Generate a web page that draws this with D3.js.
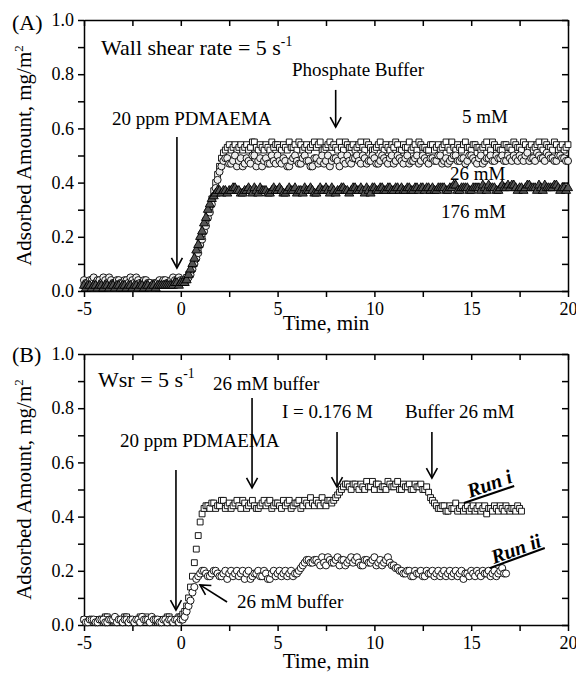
<!DOCTYPE html>
<html>
<head>
<meta charset="utf-8">
<title>Adsorbed amount</title>
<script src="https://d3js.org/d3.v7.min.js"></script>
<style>
  body { margin: 0; background: #fff; }
  svg text { font-family: "Liberation Serif", "Times New Roman", serif; fill: #000; }
</style>
</head>
<body>
<svg width="576" height="674"></svg>
<script>
// ---- data ----
const xTickLabels = [-5, 0, 5, 10, 15, 20];
const xMinorTicks = [-2.5, 2.5, 7.5, 12.5, 17.5];
const yTickLabels = [0.0, 0.2, 0.4, 0.6, 0.8, 1.0];
const yMinorTicks = [0.1, 0.3, 0.5, 0.7, 0.9];

// panel A time, min
const timeA = [
  -5,-4.8,-4.6,-4.4,-4.2,-4,-3.8,-3.6,-3.4,-3.2,
  -3,-2.8,-2.6,-2.4,-2.2,-2,-1.8,-1.6,-1.4,-1.2,
  -1,-0.8,-0.6,-0.4,-0.2,0,0.2,0.4,0.6,0.8,
  1,1.2,1.4,1.6,1.8,2,2.2,2.4,2.6,2.8,
  3,3.2,3.4,3.6,3.8,4,4.2,4.4,4.6,4.8,
  5,5.2,5.4,5.6,5.8,6,6.2,6.4,6.6,6.8,
  7,7.2,7.4,7.6,7.8,8,8.2,8.4,8.6,8.8,
  9,9.2,9.4,9.6,9.8,10,10.2,10.4,10.6,10.8,
  11,11.2,11.4,11.6,11.8,12,12.2,12.4,12.6,12.8,
  13,13.2,13.4,13.6,13.8,14,14.2,14.4,14.6,14.8,
  15,15.2,15.4,15.6,15.8,16,16.2,16.4,16.6,16.8,
  17,17.2,17.4,17.6,17.8,18,18.2,18.4,18.6,18.8,
  19,19.2,19.4,19.6,19.8,20
];
const timeAHalf = [
  -4.9,-4.7,-4.5,-4.3,-4.1,-3.9,-3.7,-3.5,-3.3,-3.1,
  -2.9,-2.7,-2.5,-2.3,-2.1,-1.9,-1.7,-1.5,-1.3,-1.1,
  -0.9,-0.7,-0.5,-0.3,-0.1,0.1,0.3,0.5,0.7,0.9,
  1.1,1.3,1.5,1.7,1.9,2.1,2.3,2.5,2.7,2.9,
  3.1,3.3,3.5,3.7,3.9,4.1,4.3,4.5,4.7,4.9,
  5.1,5.3,5.5,5.7,5.9,6.1,6.3,6.5,6.7,6.9,
  7.1,7.3,7.5,7.7,7.9,8.1,8.3,8.5,8.7,8.9,
  9.1,9.3,9.5,9.7,9.9,10.1,10.3,10.5,10.7,10.9,
  11.1,11.3,11.5,11.7,11.9,12.1,12.3,12.5,12.7,12.9,
  13.1,13.3,13.5,13.7,13.9,14.1,14.3,14.5,14.7,14.9,
  15.1,15.3,15.5,15.7,15.9,16.1,16.3,16.5,16.7,16.9,
  17.1,17.3,17.5,17.7,17.9,18.1,18.3,18.5,18.7,18.9,
  19.1,19.3,19.5,19.7,19.9
];
// 5 mM phosphate buffer (squares)
const amount5mM = [
  0.02,0.03,0.02,0.01,0.02,0.03,0.02,0.02,0.01,0.02,
  0.03,0.02,0.02,0.01,0.02,0.03,0.02,0.02,0.03,0.02,
  0.03,0.02,0.03,0.04,0.03,0.04,0.04,0.06,0.09,0.14,
  0.19,0.24,0.29,0.34,0.40,0.46,0.51,0.53,0.52,0.54,
  0.53,0.52,0.54,0.53,0.55,0.52,0.53,0.54,0.52,0.53,
  0.54,0.52,0.53,0.55,0.53,0.52,0.54,0.53,0.52,0.54,
  0.53,0.55,0.52,0.54,0.53,0.53,0.55,0.52,0.54,0.53,
  0.52,0.54,0.53,0.55,0.53,0.52,0.54,0.53,0.54,0.52,
  0.53,0.54,0.52,0.53,0.55,0.53,0.52,0.54,0.53,0.52,
  0.54,0.53,0.52,0.54,0.53,0.55,0.52,0.53,0.54,0.53,
  0.52,0.54,0.53,0.53,0.55,0.52,0.54,0.53,0.52,0.54,
  0.53,0.55,0.53,0.52,0.54,0.53,0.52,0.54,0.53,0.55,
  0.53,0.52,0.54,0.53,0.52,0.54
];
const amount5mMHalf = [
  0.03,0.02,0.01,0.02,0.03,0.02,0.01,0.02,0.03,0.02,
  0.02,0.03,0.01,0.02,0.02,0.03,0.02,0.01,0.02,0.03,
  0.02,0.03,0.02,0.03,0.04,0.04,0.05,0.07,0.11,0.16,
  0.21,0.26,0.31,0.37,0.43,0.49,0.52,0.54,0.53,0.52,
  0.54,0.53,0.52,0.55,0.53,0.54,0.52,0.53,0.55,0.54,
  0.53,0.54,0.52,0.53,0.54,0.55,0.52,0.54,0.53,0.55,
  0.54,0.52,0.53,0.55,0.54,0.52,0.53,0.55,0.53,0.54,
  0.53,0.55,0.52,0.54,0.52,0.53,0.55,0.52,0.53,0.54,
  0.55,0.52,0.54,0.53,0.52,0.54,0.55,0.53,0.52,0.54,
  0.52,0.54,0.53,0.55,0.52,0.53,0.54,0.52,0.55,0.53,
  0.54,0.53,0.52,0.54,0.53,0.55,0.53,0.52,0.54,0.53,
  0.52,0.54,0.53,0.55,0.52,0.54,0.53,0.55,0.52,0.54,
  0.53,0.55,0.52,0.54,0.53
];
// 26 mM (circles)
const amount26mM = [
  0.04,0.03,0.04,0.03,0.04,0.05,0.03,0.04,0.03,0.04,
  0.03,0.04,0.05,0.03,0.04,0.03,0.04,0.03,0.02,0.03,
  0.03,0.04,0.03,0.05,0.04,0.04,0.04,0.05,0.08,0.12,
  0.17,0.22,0.27,0.32,0.38,0.44,0.48,0.49,0.47,0.50,
  0.48,0.46,0.49,0.47,0.50,0.48,0.46,0.49,0.47,0.48,
  0.50,0.47,0.48,0.46,0.49,0.48,0.47,0.50,0.48,0.46,
  0.49,0.48,0.47,0.50,0.48,0.49,0.46,0.48,0.50,0.47,
  0.49,0.48,0.50,0.47,0.48,0.49,0.47,0.50,0.48,0.49,
  0.47,0.50,0.48,0.49,0.47,0.48,0.50,0.48,0.49,0.47,
  0.49,0.48,0.50,0.48,0.47,0.49,0.50,0.48,0.49,0.48,
  0.50,0.48,0.49,0.47,0.49,0.50,0.48,0.49,0.50,0.48,
  0.49,0.50,0.48,0.49,0.50,0.48,0.49,0.51,0.49,0.48,
  0.50,0.49,0.48,0.50,0.49,0.48
];
const amount26mMHalf = [
  0.03,0.04,0.05,0.04,0.03,0.04,0.05,0.03,0.04,0.03,
  0.04,0.03,0.04,0.05,0.03,0.04,0.03,0.02,0.03,0.04,
  0.04,0.03,0.04,0.04,0.05,0.04,0.04,0.06,0.10,0.14,
  0.19,0.24,0.29,0.35,0.41,0.46,0.49,0.47,0.48,0.46,
  0.49,0.47,0.48,0.50,0.46,0.49,0.48,0.47,0.50,0.47,
  0.48,0.49,0.46,0.48,0.50,0.47,0.49,0.48,0.46,0.49,
  0.47,0.50,0.48,0.46,0.49,0.48,0.50,0.47,0.48,0.49,
  0.50,0.47,0.49,0.48,0.50,0.47,0.48,0.49,0.47,0.50,
  0.48,0.49,0.47,0.50,0.48,0.49,0.47,0.50,0.48,0.49,
  0.48,0.50,0.47,0.49,0.48,0.50,0.48,0.49,0.47,0.50,
  0.49,0.47,0.50,0.48,0.49,0.48,0.50,0.49,0.48,0.50,
  0.48,0.49,0.50,0.48,0.51,0.49,0.48,0.50,0.49,0.51,
  0.49,0.48,0.50,0.49,0.48
];
// 176 mM (triangles)
const amount176mM = [
  0.02,0.02,0.01,0.02,0.02,0.01,0.02,0.02,0.01,0.02,
  0.02,0.01,0.02,0.02,0.01,0.02,0.02,0.01,0.02,0.02,
  0.02,0.02,0.02,0.02,0.03,0.03,0.03,0.06,0.10,0.15,
  0.20,0.25,0.30,0.34,0.36,0.37,0.37,0.36,0.37,0.38,
  0.37,0.36,0.37,0.37,0.38,0.36,0.37,0.37,0.36,0.38,
  0.37,0.37,0.36,0.38,0.37,0.36,0.37,0.38,0.37,0.37,
  0.36,0.38,0.37,0.37,0.38,0.36,0.37,0.38,0.37,0.37,
  0.38,0.37,0.37,0.38,0.36,0.38,0.37,0.38,0.37,0.38,
  0.37,0.38,0.38,0.37,0.38,0.37,0.38,0.38,0.37,0.38,
  0.38,0.37,0.38,0.38,0.37,0.38,0.39,0.37,0.38,0.38,
  0.37,0.38,0.38,0.39,0.37,0.38,0.38,0.37,0.39,0.38,
  0.38,0.39,0.37,0.38,0.38,0.39,0.38,0.37,0.38,0.39,
  0.38,0.38,0.39,0.37,0.38,0.38
];
const amount176mMHalf = [
  0.01,0.02,0.02,0.01,0.02,0.02,0.01,0.02,0.02,0.01,
  0.02,0.02,0.01,0.02,0.02,0.01,0.02,0.02,0.01,0.02,
  0.02,0.02,0.02,0.03,0.02,0.03,0.04,0.08,0.12,0.17,
  0.22,0.27,0.32,0.35,0.37,0.36,0.37,0.37,0.38,0.37,
  0.36,0.37,0.38,0.36,0.37,0.38,0.37,0.36,0.37,0.37,
  0.38,0.36,0.37,0.37,0.38,0.37,0.36,0.37,0.38,0.36,
  0.37,0.37,0.38,0.36,0.37,0.37,0.38,0.37,0.36,0.38,
  0.37,0.38,0.36,0.37,0.38,0.37,0.38,0.37,0.38,0.37,
  0.38,0.37,0.37,0.38,0.37,0.38,0.37,0.38,0.38,0.37,
  0.37,0.38,0.38,0.37,0.38,0.39,0.37,0.38,0.38,0.37,
  0.38,0.38,0.37,0.38,0.39,0.38,0.37,0.38,0.38,0.39,
  0.39,0.38,0.38,0.37,0.39,0.38,0.38,0.39,0.37,0.38,
  0.38,0.39,0.38,0.38,0.37
];

// panel B time, min
const timeB = [
  -5,-4.8,-4.6,-4.4,-4.2,-4,-3.8,-3.6,-3.4,-3.2,
  -3,-2.8,-2.6,-2.4,-2.2,-2,-1.8,-1.6,-1.4,-1.2,
  -1,-0.8,-0.6,-0.4,-0.2,0,0.2,0.4,0.6,0.8,
  1,1.2,1.4,1.6,1.8,2,2.2,2.4,2.6,2.8,
  3,3.2,3.4,3.6,3.8,4,4.2,4.4,4.6,4.8,
  5,5.2,5.4,5.6,5.8,6,6.2,6.4,6.6,6.8,
  7,7.2,7.4,7.6,7.8,8,8.2,8.4,8.6,8.8,
  9,9.2,9.4,9.6,9.8,10,10.2,10.4,10.6,10.8,
  11,11.2,11.4,11.6,11.8,12,12.2,12.4,12.6,12.8,
  13,13.2,13.4,13.6,13.8,14,14.2,14.4,14.6,14.8,
  15,15.2,15.4,15.6,15.8,16,16.2,16.4,16.6,16.8,
  17,17.2,17.4,17.6
];
const timeBHalf = [
  -4.9,-4.7,-4.5,-4.3,-4.1,-3.9,-3.7,-3.5,-3.3,-3.1,
  -2.9,-2.7,-2.5,-2.3,-2.1,-1.9,-1.7,-1.5,-1.3,-1.1,
  -0.9,-0.7,-0.5,-0.3,-0.1,0.1,0.3,0.5,0.7,0.9,
  1.1,1.3,1.5,1.7,1.9,2.1,2.3,2.5,2.7,2.9,
  3.1,3.3,3.5,3.7,3.9,4.1,4.3,4.5,4.7,4.9,
  5.1,5.3,5.5,5.7,5.9,6.1,6.3,6.5,6.7,6.9,
  7.1,7.3,7.5,7.7,7.9,8.1,8.3,8.5,8.7,8.9,
  9.1,9.3,9.5,9.7,9.9,10.1,10.3,10.5,10.7,10.9,
  11.1,11.3,11.5,11.7,11.9,12.1,12.3,12.5,12.7,12.9,
  13.1,13.3,13.5,13.7,13.9,14.1,14.3,14.5,14.7,14.9,
  15.1,15.3,15.5,15.7,15.9,16.1,16.3,16.5,16.7,16.9,
  17.1,17.3,17.5
];
// Run i (squares)
const runI = [
  0.02,0.01,0.02,0.02,0.01,0.02,0.03,0.02,0.01,0.02,
  0.02,0.03,0.02,0.01,0.02,0.02,0.03,0.02,0.02,0.01,
  0.02,0.02,0.03,0.02,0.02,0.03,0.05,0.10,0.18,0.28,
  0.38,0.43,0.44,0.45,0.43,0.44,0.46,0.44,0.43,0.45,
  0.44,0.46,0.43,0.45,0.44,0.43,0.45,0.44,0.46,0.44,
  0.45,0.43,0.44,0.46,0.44,0.45,0.43,0.46,0.44,0.45,
  0.46,0.44,0.45,0.46,0.45,0.47,0.49,0.51,0.52,0.50,
  0.52,0.50,0.51,0.53,0.51,0.50,0.52,0.51,0.50,0.52,
  0.51,0.53,0.50,0.51,0.52,0.50,0.51,0.52,0.50,0.49,
  0.46,0.44,0.43,0.44,0.42,0.43,0.45,0.43,0.42,0.44,
  0.43,0.42,0.44,0.43,0.41,0.43,0.44,0.42,0.43,0.44,
  0.42,0.43,0.44,0.42
];
const runIHalf = [
  0.01,0.02,0.02,0.01,0.02,0.03,0.02,0.01,0.02,0.02,
  0.03,0.02,0.01,0.02,0.03,0.02,0.02,0.01,0.02,0.02,
  0.02,0.03,0.02,0.02,0.03,0.04,0.07,0.14,0.23,0.33,
  0.41,0.44,0.43,0.45,0.44,0.46,0.43,0.45,0.44,0.46,
  0.43,0.45,0.44,0.46,0.43,0.44,0.46,0.45,0.43,0.45,
  0.44,0.46,0.45,0.43,0.45,0.46,0.44,0.45,0.47,0.44,
  0.45,0.47,0.44,0.46,0.46,0.48,0.50,0.52,0.51,0.52,
  0.51,0.52,0.50,0.51,0.53,0.52,0.50,0.51,0.53,0.51,
  0.52,0.50,0.52,0.51,0.50,0.52,0.51,0.50,0.51,0.47,
  0.45,0.43,0.44,0.42,0.44,0.43,0.42,0.44,0.43,0.42,
  0.44,0.43,0.42,0.44,0.43,0.42,0.43,0.44,0.42,0.43,
  0.43,0.42,0.43
];
// Run ii (circles)
const runII = [
  0.02,0.01,0.02,0.01,0.02,0.02,0.01,0.02,0.03,0.02,
  0.01,0.02,0.02,0.01,0.02,0.03,0.02,0.01,0.02,0.02,
  0.01,0.02,0.02,0.01,0.02,0.02,0.03,0.07,0.12,0.17,
  0.19,0.20,0.18,0.19,0.20,0.18,0.19,0.17,0.20,0.19,
  0.18,0.20,0.19,0.17,0.19,0.20,0.18,0.19,0.17,0.20,
  0.19,0.18,0.20,0.19,0.18,0.19,0.21,0.23,0.24,0.23,
  0.24,0.22,0.23,0.25,0.23,0.24,0.22,0.24,0.23,0.25,
  0.24,0.23,0.22,0.24,0.23,0.25,0.23,0.22,0.24,0.23,
  0.22,0.21,0.20,0.19,0.20,0.18,0.19,0.20,0.18,0.19,
  0.20,0.19,0.18,0.20,0.19,0.18,0.20,0.19,0.17,0.19,
  0.20,0.18,0.19,0.20,0.19,0.18,0.20,0.19,0.21,0.19
];
const runIIHalf = [
  0.01,0.02,0.02,0.01,0.02,0.01,0.02,0.02,0.01,0.02,
  0.02,0.01,0.02,0.02,0.01,0.02,0.02,0.03,0.02,0.01,
  0.02,0.01,0.02,0.02,0.01,0.02,0.05,0.09,0.14,0.18,
  0.20,0.19,0.18,0.20,0.19,0.18,0.20,0.19,0.18,0.20,
  0.19,0.17,0.20,0.18,0.19,0.18,0.20,0.17,0.19,0.18,
  0.20,0.19,0.18,0.20,0.19,0.20,0.22,0.24,0.23,0.24,
  0.23,0.25,0.22,0.24,0.23,0.25,0.24,0.22,0.24,0.23,
  0.25,0.22,0.24,0.23,0.24,0.22,0.24,0.23,0.25,0.22,
  0.21,0.20,0.19,0.20,0.18,0.20,0.19,0.18,0.20,0.19,
  0.18,0.20,0.19,0.18,0.20,0.19,0.18,0.20,0.19,0.18,
  0.19,0.20,0.18,0.19,0.20,0.19,0.18,0.20,0.19
];

// ---- drawing ----
const svg = d3.select('svg');
const left = 84, right = 568;

svg.append('defs').append('marker')
    .attr('id', 'head')
    .attr('viewBox', '-11 -7 13 14')
    .attr('markerWidth', 13).attr('markerHeight', 14)
    .attr('markerUnits', 'userSpaceOnUse')
    .attr('refX', 0).attr('refY', 0)
    .attr('orient', 'auto')
  .append('path')
    .attr('d', 'M-10,-5.5L0,0L-10,5.5')
    .attr('fill', 'none').attr('stroke', '#000').attr('stroke-width', 1.6);

const panel = (top, bottom) => {
  const x = d3.scaleLinear().domain([-5, 20]).range([left, right]);
  const y = d3.scaleLinear().domain([0, 1]).range([bottom, top]);
  const g = svg.append('g');
  const allX = xTickLabels.concat(xMinorTicks);
  const allY = yTickLabels.concat(yMinorTicks);

  g.append('g').attr('transform', 'translate(0,' + bottom + ')')
    .call(d3.axisBottom(x).tickValues(allX).tickSize(6).tickSizeOuter(0).tickPadding(5)
      .tickFormat(d => xTickLabels.includes(d) ? String(d) : ''));
  g.append('g').attr('transform', 'translate(0,' + top + ')')
    .call(d3.axisTop(x).tickValues(allX).tickSize(-6).tickSizeOuter(0).tickFormat(''));
  g.append('g').attr('transform', 'translate(' + left + ',0)')
    .call(d3.axisLeft(y).tickValues(allY).tickSize(6).tickSizeOuter(0).tickPadding(4)
      .tickFormat(d => yTickLabels.includes(d) ? d.toFixed(1) : ''));
  g.append('g').attr('transform', 'translate(' + right + ',0)')
    .call(d3.axisRight(y).tickValues(allY).tickSize(-6).tickSizeOuter(0).tickFormat(''));

  g.selectAll('.domain, .tick line').attr('stroke', '#000').attr('stroke-width', 1.5);
  g.selectAll('.tick text').attr('font-size', 18).attr('font-family', '"Liberation Serif", serif');

  const marks = g.append('g');
  return { g, x, y, marks };
};

// two interleaved readings per series (full and half step)
const scatter = (p, times, vals, times2, vals2, shape, size, fill) => {
  const pts = vals.map((v, i) => ({ t: times[i], v: v }))
    .concat(vals2.map((v, i) => ({ t: times2[i], v: v })))
    .sort((a, b) => a.t - b.t);
  p.marks.append('g').selectAll('path')
    .data(pts).enter().append('path')
    .attr('transform', d => 'translate(' + p.x(d.t) + ',' + p.y(d.v) + ')')
    .attr('d', d3.symbol().type(shape).size(size))
    .attr('fill', fill).attr('stroke', '#000').attr('stroke-width', 0.9);
};

const arrow = (p, t0, v0, t1, v1) => {
  p.g.append('line')
    .attr('x1', p.x(t0)).attr('y1', p.y(v0))
    .attr('x2', p.x(t1)).attr('y2', p.y(v1))
    .attr('stroke', '#000').attr('stroke-width', 1.6)
    .attr('marker-end', 'url(#head)');
};

const label = (txt, x, y, size, sup) => {
  const t = svg.append('text').attr('x', x).attr('y', y).attr('font-size', size).text(txt);
  if (sup) t.append('tspan').attr('dy', -size * 0.4).attr('font-size', size * 0.62).text(sup);
  return t;
};

const axisTitles = (top, bottom, timeY) => {
  svg.append('text')
    .attr('transform', 'translate(31,' + (top + bottom) / 2 + ') rotate(-90)')
    .attr('text-anchor', 'middle').attr('font-size', 21)
    .text('Adsorbed Amount, mg/m')
    .append('tspan').attr('dy', -8).attr('font-size', 13).text('2');
  svg.append('text')
    .attr('x', (left + right) / 2).attr('y', timeY)
    .attr('text-anchor', 'middle').attr('font-size', 21)
    .text('Time, min');
};

// panel A
const A = panel(20, 291);
scatter(A, timeA, amount5mM, timeAHalf, amount5mMHalf, d3.symbolSquare, 34, '#fff');
scatter(A, timeA, amount26mM, timeAHalf, amount26mMHalf, d3.symbolCircle, 40, '#eee');
scatter(A, timeA, amount176mM, timeAHalf, amount176mMHalf, d3.symbolTriangle, 36, '#555');
axisTitles(20, 291, 330);
label('(A)', 12, 30, 22);
label('Wall shear rate = 5 s', 101, 55, 22, '-1');
label('20 ppm PDMAEMA', 112, 125, 19);
label('Phosphate Buffer', 292, 76, 19);
label('5 mM', 462, 123, 19);
label('26 mM', 450, 180, 19);
label('176 mM', 441, 218, 19);
arrow(A, -0.2, 0.568, -0.2, 0.085);
arrow(A, 8.0, 0.742, 8.0, 0.605);

// panel B
const B = panel(354, 625);
scatter(B, timeB, runI, timeBHalf, runIHalf, d3.symbolSquare, 34, '#fff');
scatter(B, timeB, runII, timeBHalf, runIIHalf, d3.symbolCircle, 40, '#fff');
axisTitles(354, 625, 668);
label('(B)', 12, 362, 22);
label('Wsr = 5 s', 98, 387, 22, '-1');
label('26 mM buffer', 213, 390, 19);
label('I = 0.176 M', 282, 418, 19);
label('Buffer 26 mM', 405, 418, 19);
label('20 ppm PDMAEMA', 120, 447, 19);
label('26 mM buffer', 237, 608, 19);
arrow(B, 3.68, 0.838, 3.68, 0.506);
arrow(B, 8.07, 0.712, 8.07, 0.509);
arrow(B, 12.97, 0.712, 12.97, 0.542);
arrow(B, -0.25, 0.572, -0.25, 0.055);
arrow(B, 2.39, 0.085, 0.99, 0.148);

// run labels with underline
const runTag = (txt, px, py, t0, v0, t1, v1) => {
  svg.append('text')
    .attr('transform', 'translate(' + px + ',' + py + ') rotate(-20)')
    .attr('font-size', 20).attr('font-weight', 'bold').attr('font-style', 'italic')
    .text(txt);
  B.g.append('line')
    .attr('x1', B.x(t0)).attr('y1', B.y(v0))
    .attr('x2', B.x(t1)).attr('y2', B.y(v1))
    .attr('stroke', '#000').attr('stroke-width', 2);
};
runTag('Run i', 470, 498, 14.63, 0.45, 17.22, 0.513);
runTag('Run ii', 494, 564, 15.95, 0.21, 18.8, 0.284);
</script>
</body>
</html>
